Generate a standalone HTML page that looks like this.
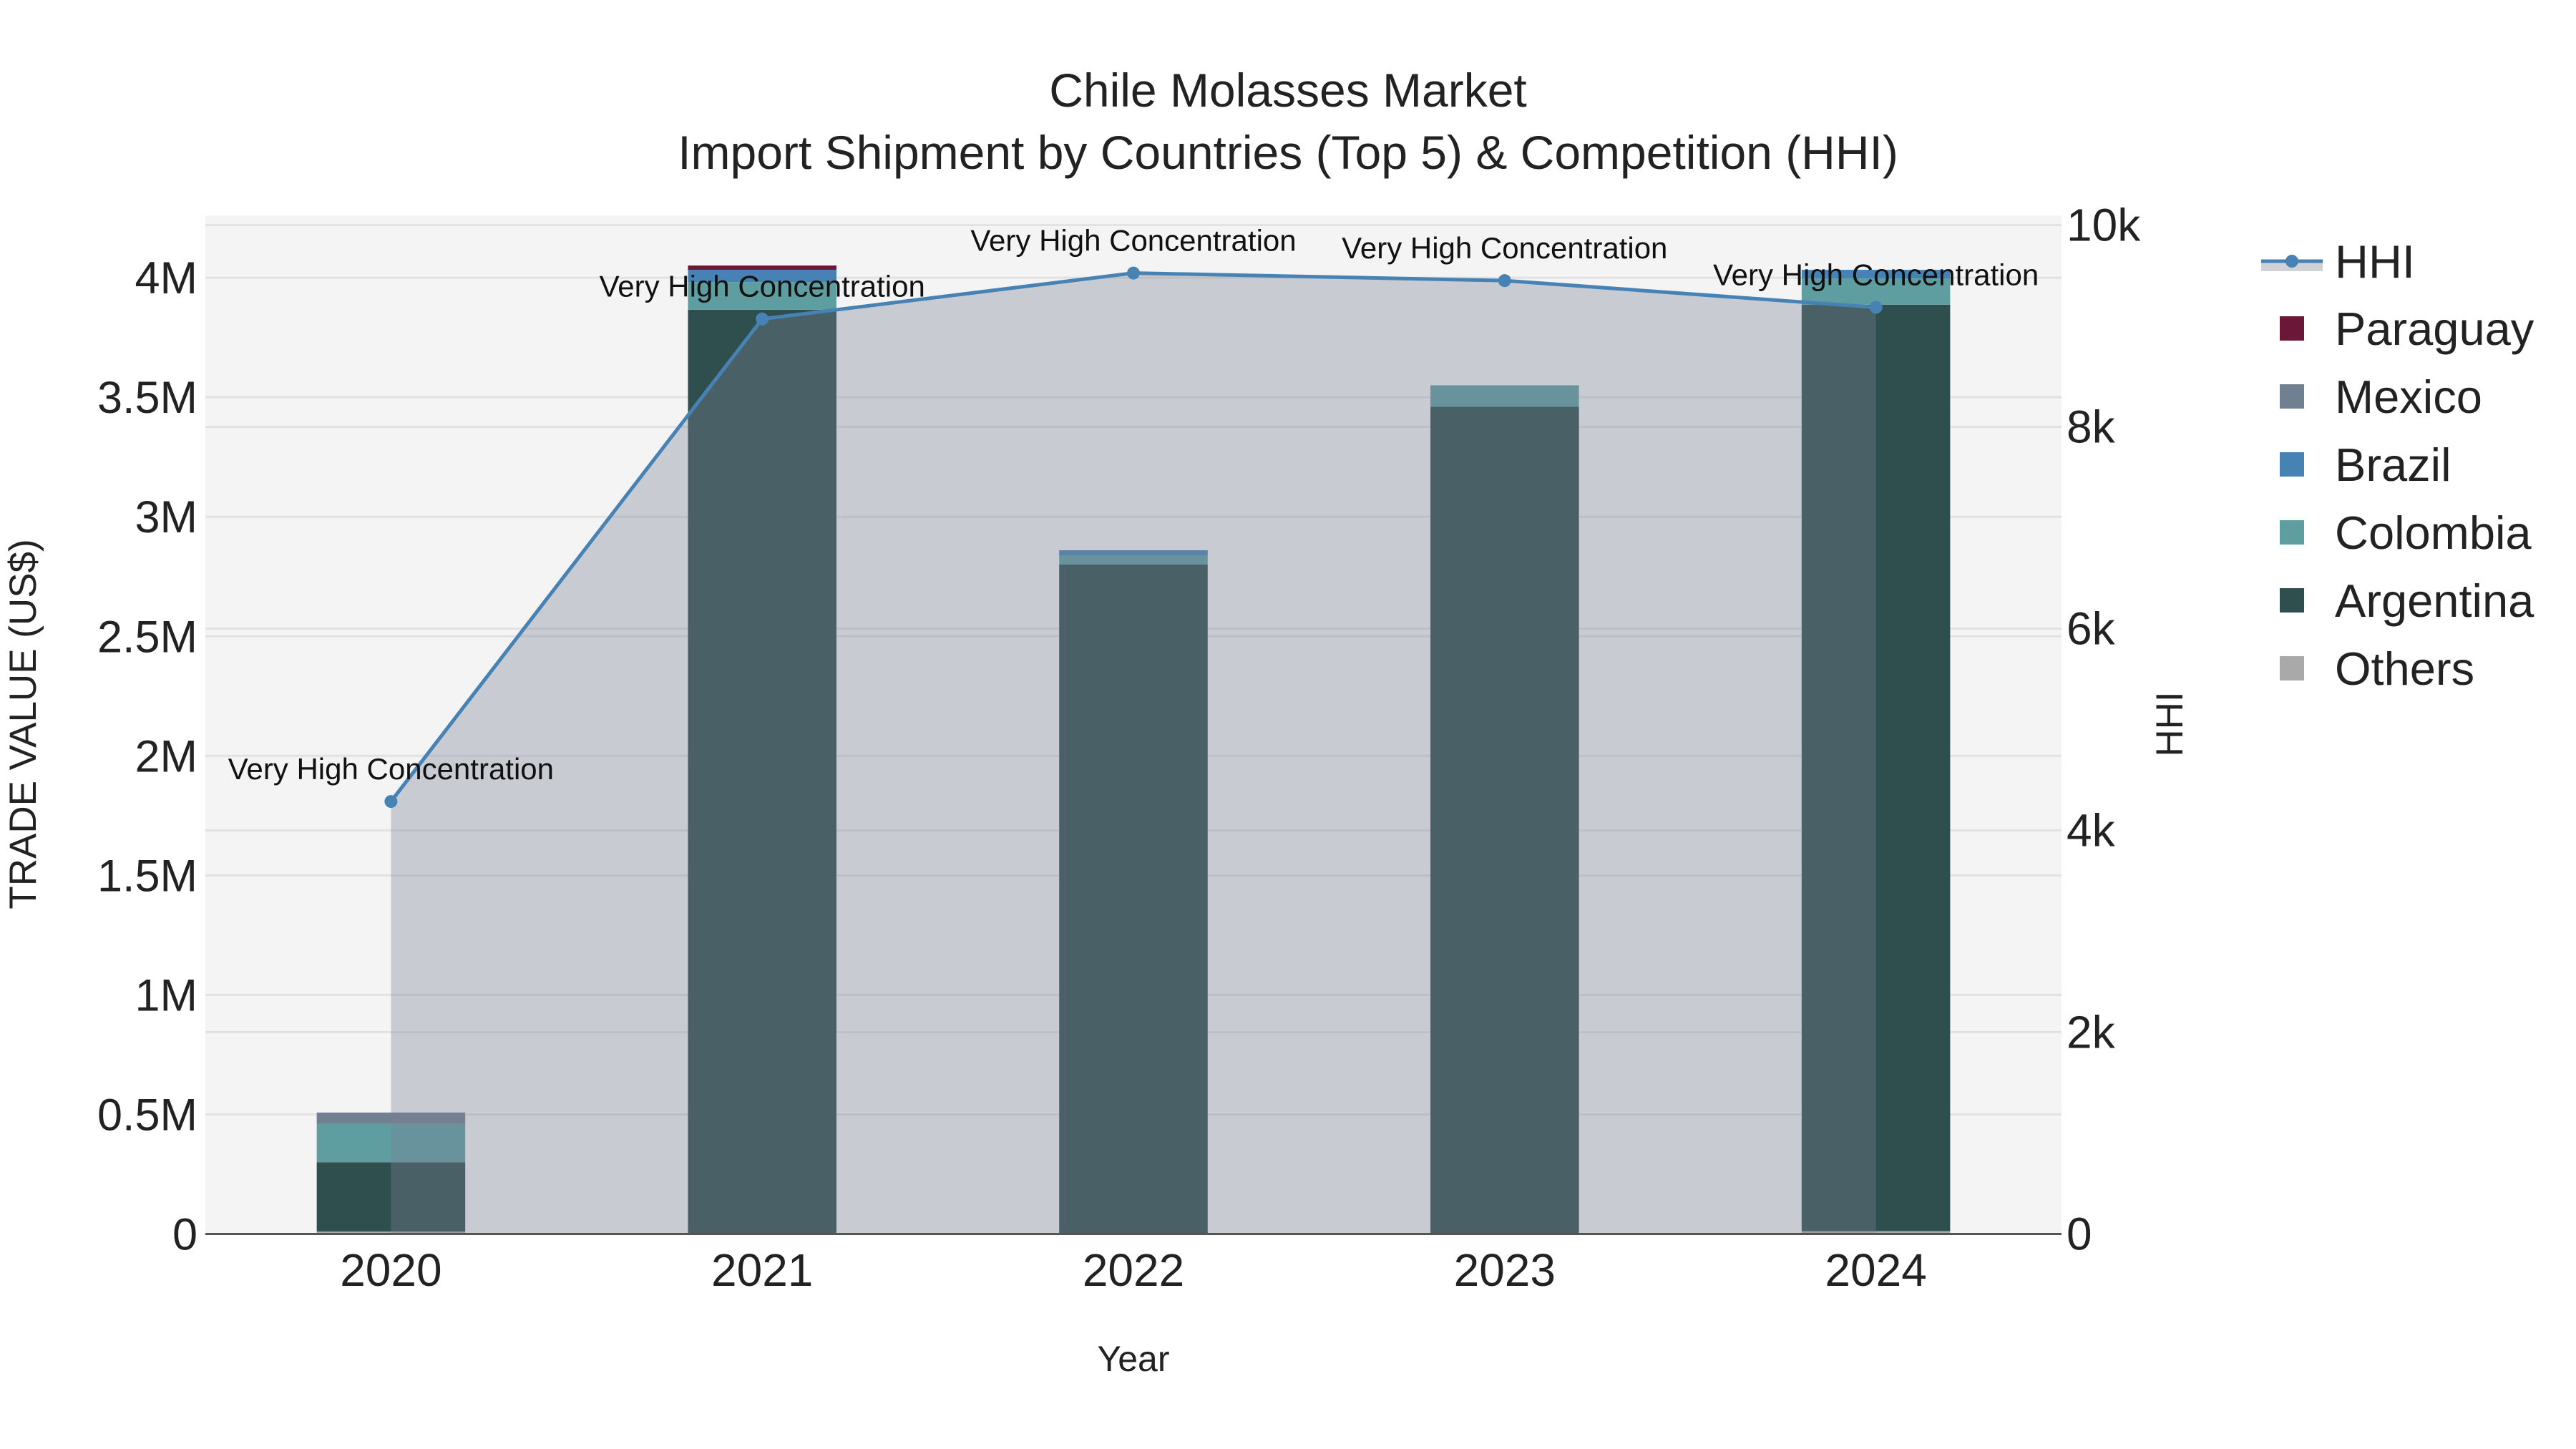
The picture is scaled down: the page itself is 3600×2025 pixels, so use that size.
<!DOCTYPE html>
<html><head><meta charset="utf-8"><style>
body{margin:0;background:#fff}
svg{display:block;font-family:"Liberation Sans",Arial,sans-serif}
</style></head><body>
<svg id="chart" width="3600" height="2025" viewBox="0 0 3600 2025" xmlns="http://www.w3.org/2000/svg">
<rect width="3600" height="2025" fill="#fff"/>
<rect x="287" y="301" width="2594" height="1423.5" fill="#f4f4f4"/>
<g id="grid"></g>
<g id="bars"></g>
<g id="fill"></g>
<g id="line"></g>
<g id="annots"></g>
<g id="axes"></g>
<text x="1800" y="149" text-anchor="middle" font-size="66" fill="#222">Chile Molasses Market</text>
<text x="1800" y="236" text-anchor="middle" font-size="66" fill="#222">Import Shipment by Countries (Top 5) &amp; Competition (HHI)</text>
<text x="1584" y="1916" text-anchor="middle" font-size="50" fill="#222">Year</text>
<text transform="translate(50,1012) rotate(-90)" text-anchor="middle" font-size="53" fill="#222">TRADE VALUE (US$)</text>
<text transform="translate(3050,1012) rotate(-90)" text-anchor="middle" font-size="53" fill="#222">HHI</text>
<g id="legend"></g>
</svg>
<script>
const years = ["2020","2021","2022","2023","2024"];
const seriesNames = ["Others","Argentina","Colombia","Brazil","Mexico","Paraguay"];
const others    = [0.01, 0, 0, 0, 0.012];
const argentina = [0.29, 3.866, 2.80, 3.46, 3.875];
const colombia  = [0.16, 0.116, 0.039, 0.09, 0.11];
const brazil    = [0, 0.051, 0.021, 0, 0.036];
const mexico    = [0.048, 0, 0, 0, 0];
const paraguay  = [0, 0.018, 0, 0, 0];
const hhi = [4287, 9070, 9525, 9450, 9185];
const hhiLabels = ["Very High Concentration","Very High Concentration","Very High Concentration","Very High Concentration","Very High Concentration"];
const yTicks = [0,0.5,1,1.5,2,2.5,3,3.5,4];
const yTickLabels = ["0","0.5M","1M","1.5M","2M","2.5M","3M","3.5M","4M"];
const y2Ticks = [0,2000,4000,6000,8000,10000];
const y2TickLabels = ["0","2k","4k","6k","8k","10k"];

const NS="http://www.w3.org/2000/svg";
const X0=287,X1=2881,Y0=1724.5,PT=301;
const band=(X1-X0)/years.length;
const xC=i=>X0+band*(i+0.5);
const yL=v=>Y0-v*334.1;
const yR=v=>Y0-v*0.14099;
const colors={Others:"#a9a9a9",Argentina:"#2f4f4f",Colombia:"#5f9ea0",Brazil:"#4682b4",Mexico:"#708090",Paraguay:"#6b1838"};
const data={Others:others,Argentina:argentina,Colombia:colombia,Brazil:brazil,Mexico:mexico,Paraguay:paraguay};
function mk(tag,attrs,parent){const e=document.createElementNS(NS,tag);for(const k in attrs)e.setAttribute(k,attrs[k]);parent.appendChild(e);return e;}

const grid=document.getElementById('grid');
yTicks.forEach((t,i)=>{
  const l=mk('line',{x1:X0,x2:X1,y1:yL(t),y2:yL(t),stroke:"#e2e2e2","stroke-width":3},grid);
  
  
  const tx=mk('text',{x:276,y:yL(t)+22,"text-anchor":"end","font-size":63,fill:"#222"},grid);
  tx.textContent=yTickLabels[i];
  
  
});
y2Ticks.forEach((t,i)=>{
  const l=mk('line',{x1:X0,x2:X1,y1:yR(t),y2:yR(t),stroke:"#e2e2e2","stroke-width":3},grid);
  
  
  const tx=mk('text',{x:2888,y:yR(t)+22,"text-anchor":"start","font-size":64,fill:"#222"},grid);
  tx.textContent=y2TickLabels[i];
  
  
});

const bars=document.getElementById('bars');
const bw=band*0.4;
years.forEach((yr,i)=>{
  let base=0;
  seriesNames.forEach(s=>{
    const v=data[s][i]; if(!v)return;
    const r=mk('rect',{x:xC(i)-bw/2,y:yL(base+v),width:bw,height:yL(base)-yL(base+v),fill:colors[s]},bars);
    
    
    base+=v;
  });
  const xl=mk('text',{x:xC(i),y:1797,"text-anchor":"middle","font-size":64,fill:"#222"},bars);
  xl.textContent=yr;
  
  
});

const pts=hhi.map((v,i)=>[xC(i),yR(v)]);
const fillG=document.getElementById('fill');
let d="M"+pts[0][0]+","+Y0+" "+pts.map(p=>"L"+p[0]+","+p[1]).join(" ")+" L"+pts[pts.length-1][0]+","+Y0+"Z";
const f=mk('path',{d:d,fill:"rgba(123,130,148,0.355)"},fillG);



const lineG=document.getElementById('line');
const pl=mk('polyline',{points:pts.map(p=>p.join(",")).join(" "),fill:"none",stroke:"#4682b4","stroke-width":5},lineG);


pts.forEach((p,i)=>{
  const c=mk('circle',{cx:p[0],cy:p[1],r:9,fill:"#4682b4"},lineG);
  
  
});
const an=document.getElementById('annots');
pts.forEach((p,i)=>{
  const t=mk('text',{x:p[0],y:p[1]-31,"text-anchor":"middle","font-size":42,fill:"#111"},an);
  t.textContent=hhiLabels[i];
  
  
});
const axes=document.getElementById('axes');
const ax=mk('line',{x1:X0,x2:X1,y1:Y0,y2:Y0,stroke:"#555","stroke-width":3},axes);



const lg=document.getElementById('legend');
const li=mk('line',{x1:3160,x2:3246,y1:365,y2:365,stroke:"#4682b4","stroke-width":5},lg);


const lb=mk('rect',{x:3160,y:367,width:86,height:12,fill:"rgba(123,130,144,0.355)"},lg);


const lc=mk('circle',{cx:3203,cy:365,r:9,fill:"#4682b4"},lg);


const lt=mk('text',{x:3263,y:388,"font-size":65,fill:"#222"},lg);
lt.textContent="HHI";


const legOrder=["Paraguay","Mexico","Brazil","Colombia","Argentina","Others"];
legOrder.forEach((s,i)=>{
  const y=459+i*95;
  const r=mk('rect',{x:3186,y:y-17,width:34,height:34,fill:colors[s]},lg);
  
  
  const t=mk('text',{x:3263,y:y+23,"font-size":65,fill:"#222"},lg);
  t.textContent=s;
  
  
});
</script>
</body></html>
